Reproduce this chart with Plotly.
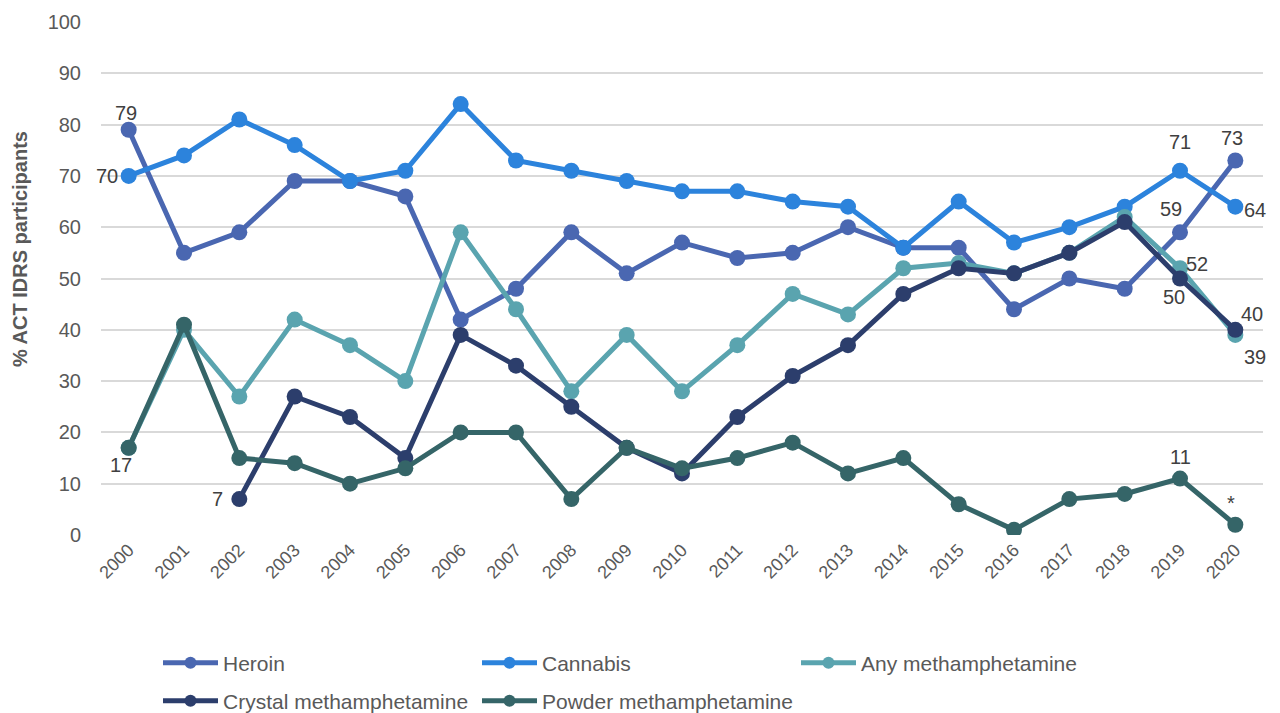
import plotly.graph_objects as go

years = [str(y) for y in range(2000, 2021)]

heroin = [79, 55, 59, 69, 69, 66, 42, 48, 59, 51, 57, 54, 55, 60, 56, 56, 44, 50, 48, 59, 73]
cannabis = [70, 74, 81, 76, 69, 71, 84, 73, 71, 69, 67, 67, 65, 64, 56, 65, 57, 60, 64, 71, 64]
any_meth = [17, 40, 27, 42, 37, 30, 59, 44, 28, 39, 28, 37, 47, 43, 52, 53, 51, 55, 62, 52, 39]
crystal_meth = [None, None, 7, 27, 23, 15, 39, 33, 25, 17, 12, 23, 31, 37, 47, 52, 51, 55, 61, 50, 40]
powder_meth = [17, 41, 15, 14, 10, 13, 20, 20, 7, 17, 13, 15, 18, 12, 15, 6, 1, 7, 8, 11, 2]

series = [
    ("Heroin", heroin, "#4A67B1"),
    ("Cannabis", cannabis, "#2C83DC"),
    ("Any methamphetamine", any_meth, "#5AA4AF"),
    ("Crystal methamphetamine", crystal_meth, "#2C3E6C"),
    ("Powder methamphetamine", powder_meth, "#356568"),
]

# (series values, year index, text, xshift, yshift)
labels = [
    (heroin, 0, "79", -3, 17),
    (heroin, 19, "59", -9, 23),
    (heroin, 20, "73", -3, 23),
    (cannabis, 0, "70", -22, 0),
    (cannabis, 19, "71", 0, 29),
    (cannabis, 20, "64", 20, -3),
    (any_meth, 19, "52", 17, 4),
    (any_meth, 20, "39", 20, -22),
    (crystal_meth, 2, "7", -22, 0),
    (crystal_meth, 19, "50", -6, -18),
    (crystal_meth, 20, "40", 17, 16),
    (powder_meth, 0, "17", -8, -17),
    (powder_meth, 19, "11", 0, 22),
    (powder_meth, 20, "*", -4, 22),
]

W, H = 1280, 713

# legend slots: (left px, centre y px)
legend_pos = [(158, 663), (477, 663), (796, 663), (158, 701), (477, 701)]

fig = go.Figure()
for k, (name, vals, color) in enumerate(series):
    fig.add_trace(
        go.Scatter(
            x=years,
            y=vals,
            name=name,
            mode="lines+markers",
            line=dict(color=color, width=5),
            marker=dict(color=color, size=16),
            legend="legend" if k == 0 else f"legend{k + 1}",
        )
    )

for vals, i, txt, dx, dy in labels:
    fig.add_annotation(
        x=i,
        y=vals[i],
        text=txt,
        showarrow=False,
        xshift=dx,
        yshift=dy,
        font=dict(size=20, color="#404040"),
    )

fig.add_annotation(
    xref="paper",
    yref="paper",
    x=-0.0697,
    y=0.5575,
    xanchor="center",
    yanchor="middle",
    text="<b>% ACT IDRS participants</b>",
    textangle=-90,
    showarrow=False,
    font=dict(size=20, color="#595959"),
)

legends = {}
for k, (lx, ly) in enumerate(legend_pos):
    legends["legend" if k == 0 else f"legend{k + 1}"] = dict(
        xref="container",
        yref="container",
        x=lx / W,
        y=1 - ly / H,
        xanchor="left",
        yanchor="middle",
        itemwidth=55,
        itemsizing="constant",
        font=dict(size=21, color="#595959"),
        bgcolor="rgba(0,0,0,0)",
    )

fig.update_layout(
    width=W,
    height=H,
    margin=dict(l=101, r=17, t=22, b=178, autoexpand=False),
    plot_bgcolor="white",
    paper_bgcolor="white",
    font=dict(family="Liberation Sans, Arial, sans-serif", color="#595959"),
    showlegend=True,
    **legends,
)
fig.update_xaxes(
    type="category",
    range=[-0.5, 20.5],
    tickangle=-45,
    tickfont=dict(size=18, color="#595959"),
    showgrid=False,
    showline=False,
    ticks="",
)
fig.update_yaxes(
    range=[0, 100],
    dtick=10,
    tickfont=dict(size=20, color="#595959"),
    gridcolor="#D9D9D9",
    gridwidth=2,
    zeroline=False,
    ticks="",
    ticklabelstandoff=19,
)

fig.write_html(
    "out.html",
    config={"displayModeBar": False},
    post_script="document.body.style.margin = '0';",
)
